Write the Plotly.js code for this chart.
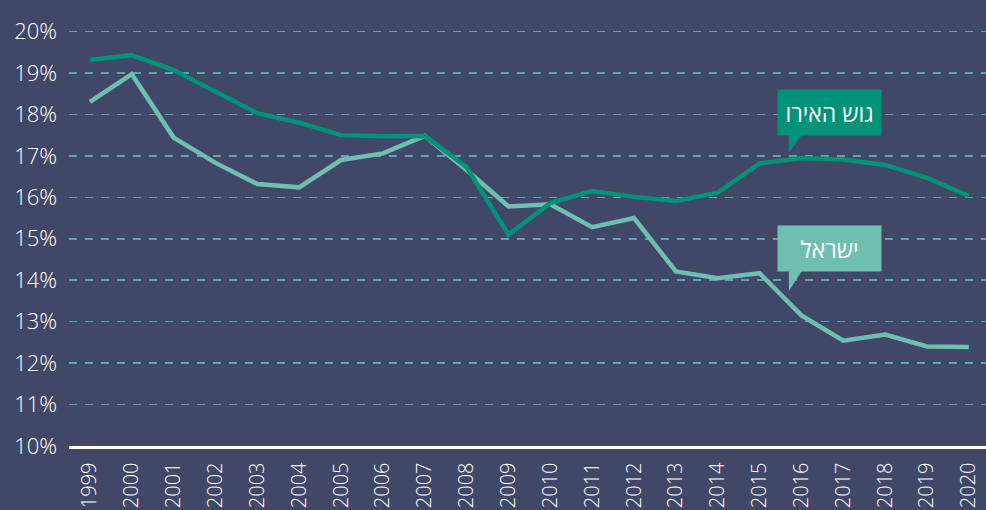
<!DOCTYPE html>
<html><head><meta charset="utf-8">
<script src="https://cdn.plot.ly/plotly-3.0.1.min.js"></script>
<style>html,body{margin:0;padding:0;background:#414767;}#chart{width:986px;height:510px;}</style>
</head><body><div id="chart"></div>
<script>
const years = [1999,2000,2001,2002,2003,2004,2005,2006,2007,2008,2009,2010,2011,2012,2013,2014,2015,2016,2017,2018,2019,2020];
const euroArea = [19.31,19.43,19.07,18.54,18.03,17.80,17.50,17.47,17.48,16.73,15.10,15.86,16.15,16.01,15.91,16.11,16.82,16.94,16.91,16.78,16.47,16.03];
const israel = [18.30,18.97,17.44,16.83,16.32,16.24,16.90,17.06,17.48,16.66,15.78,15.83,15.28,15.50,14.21,14.05,14.17,13.15,12.54,12.69,12.40,12.39];
const euroLabel = 'גוש האירו';
const israelLabel = 'ישראל';
const yTicks = [10,11,12,13,14,15,16,17,18,19,20];
const yTickText = ['10%','11%','12%','13%','14%','15%','16%','17%','18%','19%','20%'];

const euroColor = '#00937A';
const israelColor = '#6FBFB1';
const bg = '#414767';
const FONT = 'Open Sans, Liberation Sans, DejaVu Sans, sans-serif';

const traces = [
  {x: years, y: israel, type: 'scatter', mode: 'lines', line: {color: israelColor, width: 4.5}, hoverinfo: 'skip'},
  {x: years, y: euroArea, type: 'scatter', mode: 'lines', line: {color: euroColor, width: 4.5}, hoverinfo: 'skip'}
];

function callout(text, color, cx, cy, tailL, tailR, tailTop, tailTip) {
  return {
    ann: {x: cx, y: cy, xref: 'x', yref: 'y', text: text, showarrow: false,
      bgcolor: color, width: 103, height: 45, borderpad: 0,
      font: {family: FONT, size: 23, color: '#ffffff', weight: 500}},
    shape: {type: 'path', xref: 'x', yref: 'y',
      path: `M ${tailL} ${tailTop} L ${tailL} ${tailTip} L ${tailR} ${tailTop} Z`,
      fillcolor: color, line: {width: 0}}
  };
}
const c1 = callout(euroLabel, euroColor, 2016.665, 18.05, 2015.70, 2016.02, 17.52, 17.07);
const c2 = callout(israelLabel, israelColor, 2016.665, 14.76, 2015.70, 2016.02, 14.24, 13.74);

const layout = {
  width: 986, height: 510,
  paper_bgcolor: bg, plot_bgcolor: bg,
  margin: {l: 69, r: 0, t: 0, b: 64},
  showlegend: false,
  font: {family: FONT, color: '#ffffff'},
  xaxis: {
    range: [1998.5, 2020.41], tickvals: years, ticktext: years.map(String),
    tickangle: -90, tickfont: {family: FONT, size: 20, color: '#ffffff', weight: 300},
    showgrid: false, zeroline: false, showline: true, linecolor: '#ffffff', linewidth: 2.5,
    ticks: '', ticklabelstandoff: 6, fixedrange: true
  },
  yaxis: {
    range: [10, 20.76], tickvals: yTicks, ticktext: yTickText,
    tickfont: {family: FONT, size: 22, color: '#ffffff', weight: 300},
    showgrid: true, gridcolor: '#5FA3AD', gridwidth: 1.5, griddash: '8px,8px',
    zeroline: false, showline: false, ticks: '', ticklabelstandoff: 11, fixedrange: true
  },
  annotations: [c1.ann, c2.ann],
  shapes: [c1.shape, c2.shape]
};
Plotly.newPlot('chart', traces, layout, {displayModeBar: false, staticPlot: true});
</script></body></html>
